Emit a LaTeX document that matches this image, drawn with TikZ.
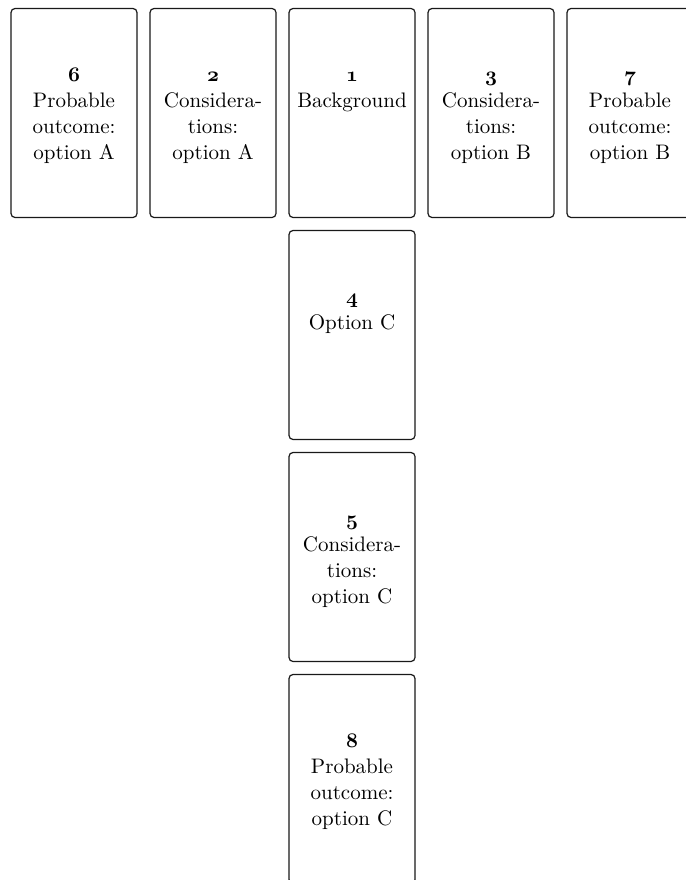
\documentclass[tikz,border=0pt]{standalone}
\usepackage{fontspec}
\setmainfont{lmroman10}[Extension=.otf,UprightFont=*-regular,
  BoldFont=*-bold,ItalicFont=*-italic]
\usetikzlibrary{positioning}
\newcommand{\cardnum}[1]{{\boldmath$\mathnormal{#1}$}\strut}
\begin{document}
\begin{tikzpicture}[x=1pt,y=-1pt,
  card/.style={draw=black!90,line width=1.2pt,rounded corners=4pt,
    minimum width=126pt,minimum height=209pt,inner sep=0pt},
  cardtext/.style={align=center,inner sep=0pt,
    font=\fontsize{21}{26}\selectfont}]
  \useasboundingbox (0,0) rectangle (685,880);
  % top row
  \node[card] (c6) at (74,113) {};
  \node[card] (c2) at (213,113) {};
  \node[card] (c1) at (352,113) {};
  \node[card] (c3) at (491,113) {};
  \node[card] (c7) at (630,113) {};
  % column below the background card
  \node[card] (c4) at (352,335) {};
  \node[card] (c5) at (352,557) {};
  \node[card] (c8) at (352,779) {};
  % card texts
  \node[cardtext,below=55pt of c6.north] (t6)
    {\cardnum{6}\\Probable\\outcome:\\option A};
  \node[cardtext,below=55pt of c2.north] (t2)
    {\cardnum{2}\\Considera-\\tions:\\option A};
  \node[cardtext,below=55pt of c1.north] (t1)
    {\cardnum{1}\\Background};
  \node[cardtext,below=55pt of c3.north] (t3)
    {\cardnum{3}\\Considera-\\tions:\\option B};
  \node[cardtext,below=55pt of c7.north] (t7)
    {\cardnum{7}\\Probable\\outcome:\\option B};
  \node[cardtext,below=55pt of c4.north] (t4)
    {\cardnum{4}\\Option C};
  \node[cardtext,below=55pt of c5.north] (t5)
    {\cardnum{5}\\Considera-\\tions:\\option C};
  \node[cardtext,below=55pt of c8.north] (t8)
    {\cardnum{8}\\Probable\\outcome:\\option C};
\end{tikzpicture}
\end{document}
